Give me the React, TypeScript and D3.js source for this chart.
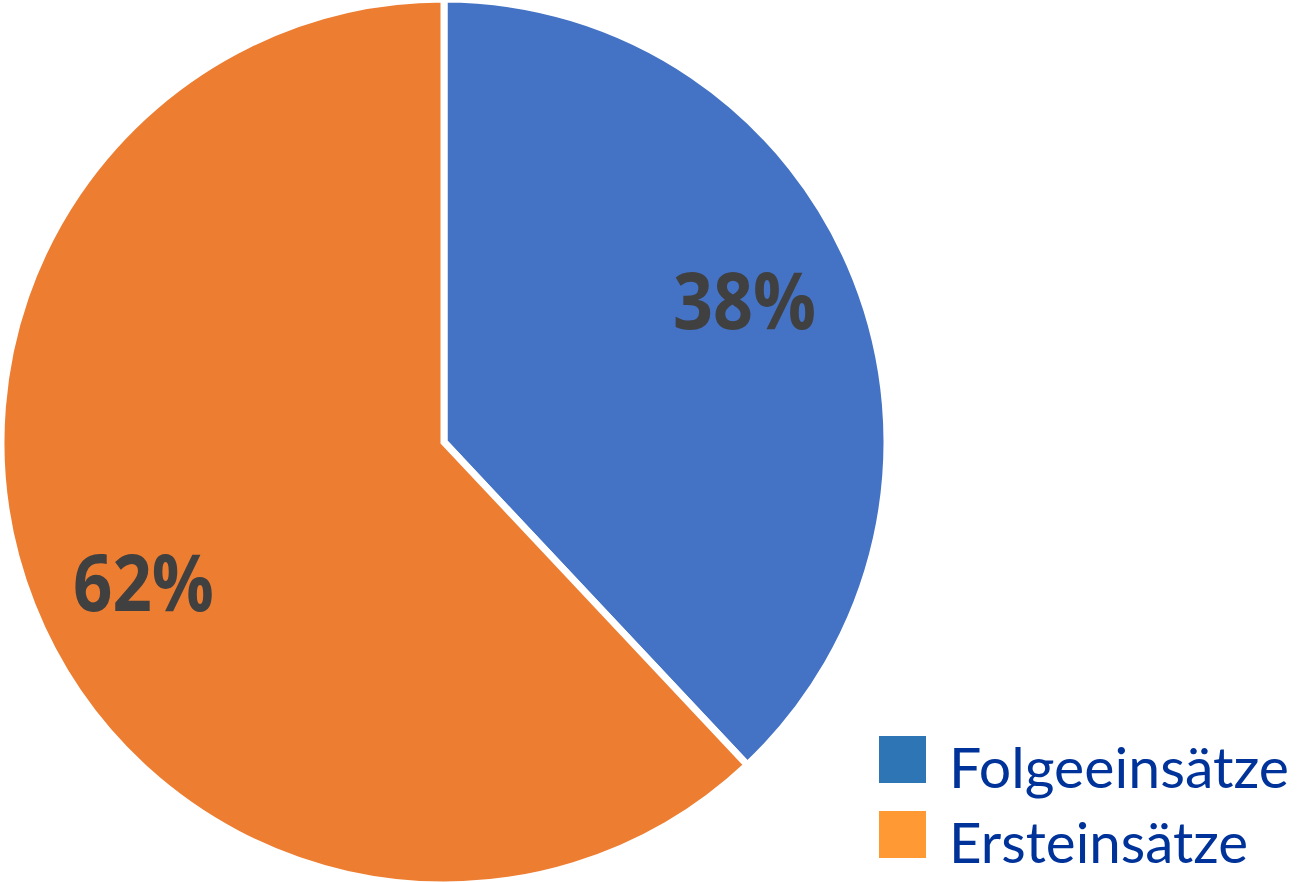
import React, { useEffect, useRef } from 'react';
import * as d3 from 'd3';

const W = 1299;
const H = 882;

const categories = ['Folgeeinsätze', 'Ersteinsätze'];
const shares = [38, 62];
const sliceColors = ['#4472C4', '#ED7D31'];
const legendColors = ['#2E75B6', '#FF9933'];

const App = () => {
  const svgRef = useRef<SVGSVGElement>(null);

  useEffect(() => {
    const svg = d3.select(svgRef.current);
    svg.selectAll('*').remove();

    const cx = 444;
    const cy = 442;
    const R = 443;

    const pie = d3.pie<number>().sort(null).value(d => d);
    const arcs = pie(shares);

    const arc = d3.arc<d3.PieArcDatum<number>>().innerRadius(0).outerRadius(R);

    const g = svg.append('g').attr('transform', `translate(${cx},${cy})`);

    g.selectAll('path')
      .data(arcs)
      .join('path')
      .attr('d', arc)
      .attr('fill', (_, i) => sliceColors[i])
      .attr('stroke', '#fff')
      .attr('stroke-width', 7)
      .attr('stroke-linejoin', 'miter');

    const labelWidths = [143, 141];
    g.selectAll('text.pct')
      .data(arcs)
      .join('text')
      .attr('class', 'pct')
      .attr('transform', d => {
        // nudge a little back toward the start angle like the original
        const a = (d.startAngle + d.endAngle) / 2 - 0.062;
        const r = 332;
        return `translate(${Math.sin(a) * r},${-Math.cos(a) * r + 28})`;
      })
      .attr('text-anchor', 'middle')
      .attr('font-family', 'Open Sans, sans-serif')
      .attr('font-weight', 700)
      .attr('font-size', 78)
      .attr('fill', '#404040')
      .attr('textLength', (_, i) => labelWidths[i])
      .attr('lengthAdjust', 'spacingAndGlyphs')
      .text(d => `${d.data}%`);

    const legend = svg.append('g').attr('transform', 'translate(879,736)');
    const textWidths = [340, 299];
    const rows = legend.selectAll('g')
      .data(categories)
      .join('g')
      .attr('transform', (_, i) => `translate(0,${i * 75})`);

    rows.append('rect')
      .attr('width', 47)
      .attr('height', 47)
      .attr('fill', (_, i) => legendColors[i]);

    rows.append('text')
      .attr('x', 70)
      .attr('y', 52)
      .attr('font-family', 'Lato, sans-serif')
      .attr('font-size', 56)
      .attr('fill', '#003399')
      .attr('textLength', (_, i) => textWidths[i])
      .attr('lengthAdjust', 'spacingAndGlyphs')
      .text(d => d);
  }, []);

  return (
    <div style={{ position: 'absolute', left: 0, top: 0 }}>
      <svg width={W} height={H} ref={svgRef} style={{ display: 'block', background: '#fff' }} />
    </div>
  );
};

export default App;
